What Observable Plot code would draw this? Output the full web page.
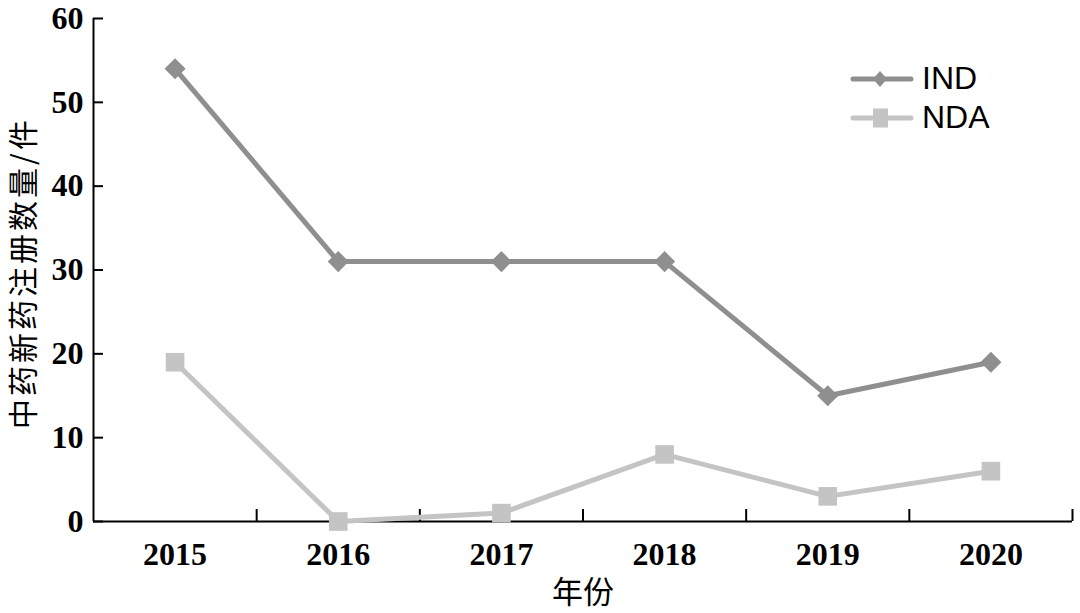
<!DOCTYPE html>
<html><head><meta charset="utf-8">
<script src="https://cdn.jsdelivr.net/npm/d3@7"></script>
<script src="https://cdn.jsdelivr.net/npm/@observablehq/plot@0.6"></script>
<style>
body{margin:0;background:#fff;}
#wrap{position:relative;width:1080px;height:613px;}
#legend{position:absolute;left:850px;top:59px;font-family:"Liberation Sans",Arial,sans-serif;font-size:32px;color:#000;}
#legend .row{display:flex;align-items:center;height:39px;}
#legend svg{margin-right:8px;}
</style></head>
<body><div id="wrap"><div id="legend"></div></div>
<script>
const years = [2015, 2016, 2017, 2018, 2019, 2020];
const ind = [54, 31, 31, 31, 15, 19];
const nda = [19, 0, 1, 8, 3, 6];
const yTicks = [0, 10, 20, 30, 40, 50, 60];
const yLabel = "中药新药注册数量/件";
const xLabel = "年份";
const seriesNames = ["IND", "NDA"];
const colors = {IND: "#8f8f8f", NDA: "#c4c4c4"};

const rows = [];
years.forEach((y, i) => {
  rows.push({year: y, value: ind[i], series: "IND"});
  rows.push({year: y, value: nda[i], series: "NDA"});
});
const indRows = rows.filter(d => d.series === "IND");
const ndaRows = rows.filter(d => d.series === "NDA");
const bounds = years.map(y => y + 0.5);

const chart = Plot.plot({
  width: 1080, height: 613,
  marginLeft: 93, marginRight: 8, marginTop: 18, marginBottom: 92,
  style: {fontFamily: "'Liberation Serif', 'Times New Roman', serif", fontSize: "32px", fontWeight: "bold", color: "#000", background: "#fff"},
  x: {domain: [years[0] - 0.5, years[years.length - 1] + 0.5]},
  y: {domain: [0, 60]},
  marks: [
    Plot.axisY(yTicks, {tickSize: -10, tickPadding: 20, strokeWidth: 2, label: null, tickFormat: d => String(d)}),
    Plot.axisX(years, {tickSize: 0, tickPadding: 21, label: null, tickFormat: d => String(d)}),
    Plot.axisX(bounds, {tickSize: -12, strokeWidth: 2, label: null, tickFormat: () => ""}),
    Plot.ruleY([0], {stroke: "#000", strokeWidth: 2}),
    Plot.ruleX([years[0] - 0.5], {stroke: "#000", strokeWidth: 2}),
    Plot.line(indRows, {x: "year", y: "value", stroke: colors.IND, strokeWidth: 5}),
    Plot.line(ndaRows, {x: "year", y: "value", stroke: colors.NDA, strokeWidth: 5}),
    Plot.dot(indRows, {x: "year", y: "value", symbol: "diamond2", r: 9.5, fill: colors.IND, stroke: "none"}),
    Plot.dot(ndaRows, {x: "year", y: "value", symbol: "square", r: 10.5, fill: colors.NDA, stroke: "none"}),
    Plot.text([yLabel], {frameAnchor: "left", dx: -69, dy: 3, rotate: -90, textAnchor: "middle", fontFamily: "'Noto Sans CJK SC', sans-serif", fontWeight: "normal", fontSize: 30, lineAnchor: "middle", fill: "#000"}),
    Plot.text([xLabel], {frameAnchor: "bottom", dy: 72, textAnchor: "middle", fontFamily: "'Noto Sans CJK SC', sans-serif", fontWeight: "normal", fontSize: 31, lineAnchor: "middle", fill: "#000"})
  ]
});
d3.select(chart).selectAll("text").filter(function() { return this.textContent === yLabel; })
  .attr("letter-spacing", "3px");
document.getElementById("wrap").prepend(chart);

const legend = document.getElementById("legend");
seriesNames.forEach(name => {
  const row = document.createElement("div");
  row.className = "row";
  const c = colors[name];
  const marker = name === "IND"
    ? `<path d="M30,11 L37,19 L30,27 L23,19 Z" fill="${c}"/>`
    : `<rect x="23" y="9.5" width="15" height="19" fill="${c}"/>`;
  row.innerHTML = `<svg width="64" height="38"><line x1="3" y1="19" x2="61" y2="19" stroke="${c}" stroke-width="5" stroke-linecap="round"/>${marker}</svg><span>${name}</span>`;
  legend.appendChild(row);
});
</script>
</body></html>
